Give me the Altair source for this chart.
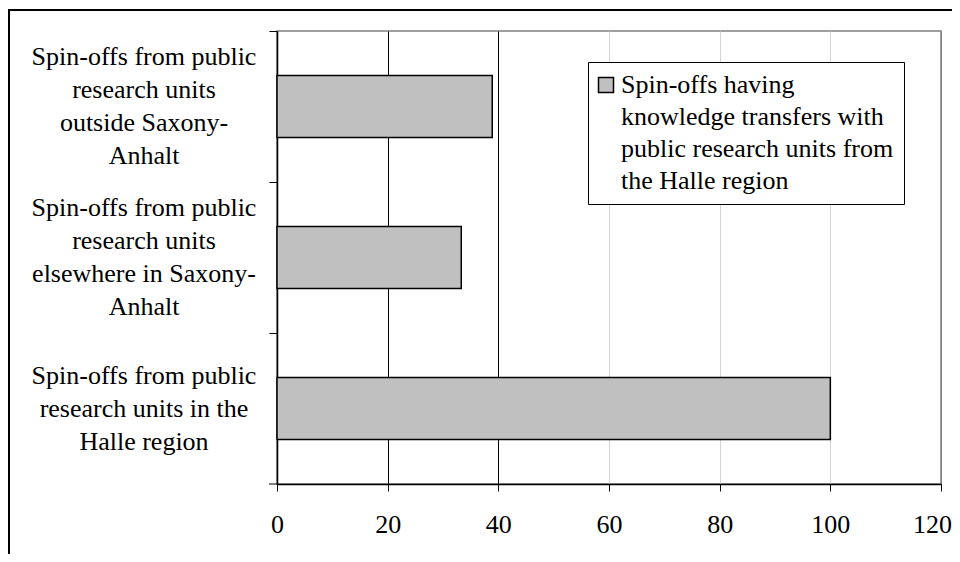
import altair as alt
import pandas as pd

categories = [
    "Spin-offs from public\nresearch units\noutside Saxony-\nAnhalt",
    "Spin-offs from public\nresearch units\nelsewhere in Saxony-\nAnhalt",
    "Spin-offs from public\nresearch units in the\nHalle region",
]
values = [38.9, 33.3, 100.0]
series_name = "Spin-offs having\nknowledge transfers with\npublic research units from\nthe Halle region"
x_ticks = [0, 20, 40, 60, 80, 100, 120]

df = pd.DataFrame({"category": categories, "value": values,
                   "series": [series_name] * len(categories)})

FONT = "Liberation Serif"
W, H = 664, 453
LINE = 33

grid_color = {
    "condition": [
        {"test": "datum.value > 0 && datum.value <= 40", "value": "black"},
        {"test": "datum.value >= 120", "value": "#808080"},
    ],
    "value": "#d4d4d4",
}

# centre multi-line labels on their band
label_offset = {
    "condition": [
        {"test": "length(split(datum.label, '\\n')) == 3", "value": -LINE},
        {"test": "length(split(datum.label, '\\n')) == 2", "value": -LINE / 2},
    ],
    "value": -1.5 * LINE,
}

# keep the last x label inside the page
x_label_offset = {
    "condition": {"test": "datum.value >= 120", "value": -9},
    "value": 0,
}

bars = alt.Chart(df).mark_bar(size=62, stroke="black", strokeWidth=1.5).encode(
    x=alt.X("value:Q",
            scale=alt.Scale(domain=[0, 120], nice=False),
            axis=alt.Axis(values=x_ticks, title=None, grid=True, gridColor=grid_color,
                          gridWidth=1, domainColor="black", domainWidth=1.5,
                          tickColor="black", tickSize=7,
                          labelFont=FONT, labelFontSize=26, labelColor="black",
                          labelPadding=20, labelFlush=False,
                          labelOffset=x_label_offset)),
    y=alt.Y("category:N", sort=categories,
            scale=alt.Scale(paddingInner=0, paddingOuter=0),
            axis=alt.Axis(title=None, bandPosition=0, ticks=True, tickSize=8,
                          tickColor="black", domainColor="black", domainWidth=1.5,
                          grid=False,
                          labelExpr="split(datum.label, '\\n')",
                          labelAlign="center", labelBaseline="middle",
                          labelPadding=125.5, labelOffset=label_offset,
                          labelLineHeight=LINE, labelLimit=400,
                          labelFont=FONT, labelFontSize=26, labelColor="black")),
    color=alt.Color("series:N", scale=alt.Scale(range=["#c0c0c0"]),
                    legend=alt.Legend(title=None, orient="none", legendX=311, legendY=31,
                                      padding=10, strokeColor="black", fillColor="white",
                                      symbolType="square", symbolSize=225,
                                      symbolStrokeColor="black", symbolStrokeWidth=1.5,
                                      symbolOffset={"expr": "-5"},
                                      labelExpr="split(datum.label, '\\n')",
                                      labelFont=FONT, labelFontSize=26, labelColor="black",
                                      labelLimit=400, labelOffset={"expr": "2"},
                                      labelBaseline="middle")),
)

frame = alt.Chart(pd.DataFrame({"k": [0]})).mark_rect(
    fill="transparent", stroke="black", strokeWidth=2
).encode(x=alt.value(-268), x2=alt.value(W + 60), y=alt.value(-21), y2=alt.value(H + 120))

bottom_tick = alt.Chart(pd.DataFrame({"k": [0]})).mark_rule(
    color="black", strokeWidth=1
).encode(x=alt.value(-8), x2=alt.value(0), y=alt.value(H))

chart = alt.layer(frame, bars, bottom_tick).properties(
    width=W, height=H,
    autosize=alt.AutoSizeParams(type="none"),
    padding={"left": 269, "top": 23, "right": 11, "bottom": 70},
).configure(
    view={"stroke": "#808080", "strokeWidth": 1.5},
    style={"guide-label": {"lineHeight": 32}},
)

chart.save("out.html", embed_options={"renderer": "svg", "actions": False})
